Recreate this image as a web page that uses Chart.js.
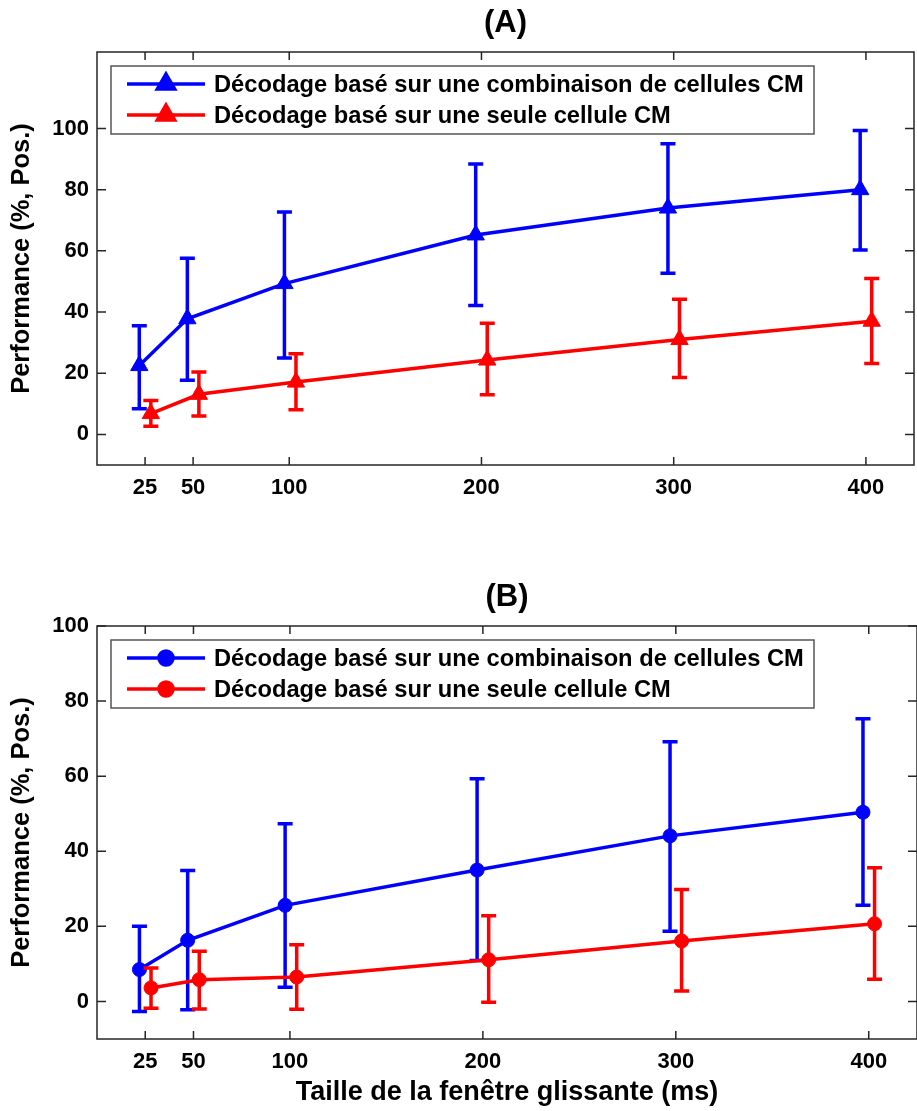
<!DOCTYPE html>
<html>
<head>
<meta charset="utf-8">
<script src="https://cdn.jsdelivr.net/npm/chart.js@4.4.1/dist/chart.umd.min.js"></script>
<style>
    body { margin: 0; background: #fff; }
    #wrap { position: relative; width: 917px; height: 1111px; overflow: hidden; background: #fff; }
    #inner { position: absolute; left: 0; top: 0; width: 925px; height: 1111px; }
    #inner canvas { position: absolute; left: 0; }
</style>
</head>
<body>
<div id="wrap">
    <div id="inner">
        <canvas id="chart-a" width="925" height="574" style="top:0;width:925px;height:574px"></canvas>
        <canvas id="chart-b" width="925" height="537" style="top:574px;width:925px;height:537px"></canvas>
    </div>
</div>
<script>
// window sizes (ms); the two series are drawn slightly apart around each size
const xTickValues = [25, 50, 100, 200, 300, 400];
const xCombo = [22, 47, 97.5, 197, 297, 397];
const xSingle = [28, 53, 103.5, 203, 303, 403];

const labelCombo = 'Décodage basé sur une combinaison de cellules CM';
const labelSingle = 'Décodage basé sur une seule cellule CM';

// (A)
const yTicksA = [0, 20, 40, 60, 80, 100];
const comboA = [22.5, 37.8, 49.3, 65.2, 74.0, 80.0];
const comboALow = [8.4, 17.7, 25.0, 42.1, 52.7, 60.3];
const comboAHigh = [35.5, 57.6, 72.7, 88.4, 95.0, 99.3];
const singleA = [6.8, 13.1, 17.1, 24.3, 31.0, 37.0];
const singleALow = [2.7, 6.0, 8.1, 13.0, 18.6, 23.2];
const singleAHigh = [11.1, 20.4, 26.4, 36.3, 44.2, 51.0];

// (B)
const yTicksB = [0, 20, 40, 60, 80, 100];
const comboB = [8.5, 16.3, 25.6, 35.0, 44.1, 50.4];
const comboBLow = [-2.7, -2.2, 3.8, 10.9, 18.7, 25.6];
const comboBHigh = [20.0, 34.9, 47.3, 59.3, 69.2, 75.3];
const singleB = [3.6, 5.8, 6.5, 11.1, 16.1, 20.7];
const singleBLow = [-1.8, -2.0, -2.1, -0.2, 2.8, 5.9];
const singleBHigh = [8.9, 13.4, 15.1, 22.8, 29.8, 35.6];

const FONT = '"Liberation Sans", Arial, Helvetica, sans-serif';

function points(xs, ys) {
    return xs.map((x, i) => ({x: x, y: ys[i]}));
}

// vertical error bars with caps, drawn under each series' line and markers
const errorBars = {
    id: 'errorBars',
    beforeDatasetDraw(chart, args) {
        const ds = chart.data.datasets[args.index];
        if (!ds.errLow) return;
        const ctx = chart.ctx;
        const xs = chart.scales.x, ys = chart.scales.y;
        ctx.save();
        ctx.strokeStyle = ds.borderColor;
        ctx.lineWidth = 3.5;
        ds.data.forEach((p, i) => {
            const px = xs.getPixelForValue(p.x);
            const top = ys.getPixelForValue(ds.errHigh[i]);
            const bot = ys.getPixelForValue(ds.errLow[i]);
            ctx.beginPath();
            ctx.moveTo(px, top);
            ctx.lineTo(px, bot);
            ctx.moveTo(px - 7.5, top);
            ctx.lineTo(px + 7.5, top);
            ctx.moveTo(px - 7.5, bot);
            ctx.lineTo(px + 7.5, bot);
            ctx.stroke();
        });
        ctx.restore();
    }
};

// matlab style box with inward ticks on all four sides
const axesBox = {
    id: 'axesBox',
    afterDatasetsDraw(chart) {
        const ctx = chart.ctx;
        const a = chart.chartArea;
        ctx.save();
        ctx.strokeStyle = '#262626';
        ctx.lineWidth = 1.5;
        ctx.strokeRect(a.left, a.top, a.right - a.left, a.bottom - a.top);
        ctx.beginPath();
        chart.scales.x.ticks.forEach(t => {
            const px = chart.scales.x.getPixelForValue(t.value);
            ctx.moveTo(px, a.bottom);
            ctx.lineTo(px, a.bottom - 8);
            ctx.moveTo(px, a.top);
            ctx.lineTo(px, a.top + 8);
        });
        chart.scales.y.ticks.forEach(t => {
            const py = chart.scales.y.getPixelForValue(t.value);
            ctx.moveTo(a.left, py);
            ctx.lineTo(a.left + 9, py);
            ctx.moveTo(a.right, py);
            ctx.lineTo(a.right - 9, py);
        });
        ctx.stroke();
        ctx.restore();
    }
};

// legend box inside the top-left corner of the plot
const boxLegend = {
    id: 'boxLegend',
    afterDraw(chart) {
        const ctx = chart.ctx;
        const a = chart.chartArea;
        const left = a.left + 14, top = a.top + 14;
        ctx.save();
        ctx.fillStyle = '#fff';
        ctx.fillRect(left, top, 703, 68);
        ctx.strokeStyle = '#555';
        ctx.lineWidth = 1.5;
        ctx.strokeRect(left, top, 703, 68);
        ctx.font = 'bold 23.7px ' + FONT;
        ctx.textBaseline = 'middle';
        chart.data.datasets.forEach((ds, i) => {
            const y = top + 18 + i * 31;
            ctx.strokeStyle = ds.borderColor;
            ctx.lineWidth = 3.5;
            ctx.beginPath();
            ctx.moveTo(left + 16, y);
            ctx.lineTo(left + 94, y);
            ctx.stroke();
            Chart.helpers.drawPoint(ctx, {
                pointStyle: ds.pointStyle,
                radius: ds.pointRadius,
                borderWidth: 1
            }, left + 55, y);
            ctx.fillStyle = ds.backgroundColor;
            ctx.fill();
            ctx.fillStyle = '#000';
            ctx.fillText(ds.label, left + 103, y + 1);
        });
        ctx.restore();
    }
};

function makePanel(canvasId, title, style, radius, yMax, yTicks, series, showXTitle, xHeight) {
    const datasets = series.map(s => ({
        label: s.label,
        data: points(s.xs, s.ys),
        errLow: s.low,
        errHigh: s.high,
        borderColor: s.color,
        backgroundColor: s.color,
        borderWidth: 3.5,
        pointStyle: style,
        pointRadius: radius,
        pointBorderWidth: 1,
        showLine: true,
        tension: 0,
        order: s.order
    }));

    return new Chart(document.getElementById(canvasId), {
        type: 'scatter',
        data: {datasets: datasets},
        options: {
            responsive: false,
            animation: false,
            layout: {padding: {left: 0, right: 4, top: 0, bottom: 0}},
            plugins: {
                legend: {display: false},
                tooltip: {enabled: false},
                title: {
                    display: true,
                    text: title,
                    fullSize: false,
                    color: '#000',
                    font: {family: FONT, size: 31, weight: 'bold'},
                    padding: {top: 5, bottom: 9.8}
                }
            },
            scales: {
                x: {
                    type: 'linear',
                    min: 0,
                    max: 425,
                    afterBuildTicks: scale => {
                        scale.ticks = xTickValues.map(v => ({value: v}));
                    },
                    afterFit: scale => {
                        scale.height = xHeight;
                    },
                    grid: {display: false, drawTicks: false},
                    border: {display: false},
                    ticks: {
                        color: '#000',
                        padding: 10,
                        autoSkip: false,
                        maxRotation: 0,
                        font: {family: FONT, size: 22, weight: 'bold'}
                    },
                    title: {
                        display: showXTitle,
                        text: 'Taille de la fenêtre glissante (ms)',
                        color: '#000',
                        font: {family: FONT, size: 27, weight: 'bold'},
                        padding: {top: 0, bottom: 2}
                    }
                },
                y: {
                    type: 'linear',
                    min: -10,
                    max: yMax,
                    afterBuildTicks: scale => {
                        scale.ticks = yTicks.map(v => ({value: v}));
                    },
                    afterFit: scale => {
                        scale.width = 97;
                    },
                    grid: {display: false, drawTicks: false},
                    border: {display: false},
                    ticks: {
                        color: '#000',
                        padding: 8,
                        font: {family: FONT, size: 22, weight: 'bold'}
                    },
                    title: {
                        display: true,
                        text: 'Performance (%, Pos.)',
                        color: '#000',
                        font: {family: FONT, size: 25.5, weight: 'bold'},
                        padding: {top: 7, bottom: 0}
                    }
                }
            }
        },
        plugins: [errorBars, axesBox, boxLegend]
    });
}

makePanel('chart-a', '(A)', 'triangle', 10, 125, yTicksA, [
    {label: labelCombo, xs: xCombo, ys: comboA, low: comboALow, high: comboAHigh, color: '#0000ff', order: 2},
    {label: labelSingle, xs: xSingle, ys: singleA, low: singleALow, high: singleAHigh, color: '#ff0000', order: 1}
], false, 109);

makePanel('chart-b', '(B)', 'circle', 7, 100, yTicksB, [
    {label: labelCombo, xs: xCombo, ys: comboB, low: comboBLow, high: comboBHigh, color: '#0000ff', order: 2},
    {label: labelSingle, xs: xSingle, ys: singleB, low: singleBLow, high: singleBHigh, color: '#ff0000', order: 1}
], true, 72);
</script>
</body>
</html>
